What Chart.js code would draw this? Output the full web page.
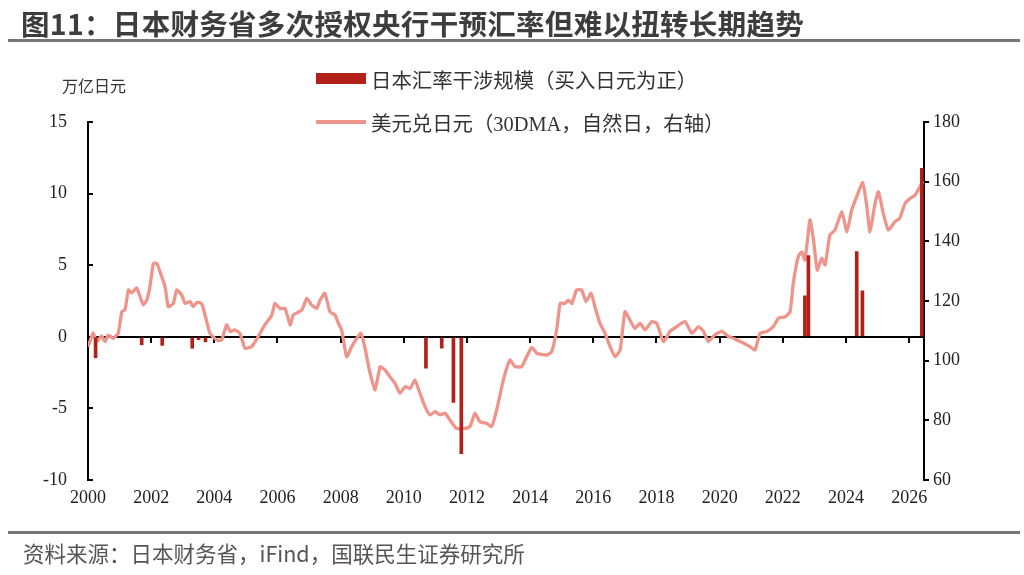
<!DOCTYPE html>
<html>
<head>
<meta charset="utf-8">
<script src="https://cdn.jsdelivr.net/npm/chart.js@4/dist/chart.umd.min.js"></script>
<style>
  html, body { margin: 0; padding: 0; background: #fff; }
  #wrap { position: relative; width: 1024px; height: 575px; overflow: hidden; }
  #chart { position: absolute; left: 0; top: 0; }
  .txt { position: absolute; white-space: nowrap; font-family: "Noto Sans CJK SC", "Noto Sans", sans-serif; }
  #title { left: 21px; top: 2px; font-size: 28.5px; font-weight: bold; color: #3d3d3d; letter-spacing: 0.3px; }
  .rule { position: absolute; left: 8px; width: 1012px; height: 3px; background: #777; }
  #foot { left: 23px; top: 537px; font-size: 21.5px; color: #555; }
  #unit { left: 62px; top: 73px; font-size: 16px; color: #333; }
  .leg { font-size: 20.4px; color: #333; font-family: "Liberation Serif", "Noto Sans CJK SC", serif; }
  .swatch { position: absolute; }
</style>
</head>
<body>
<div id="wrap">
  <canvas id="chart" width="1024" height="575"></canvas>
  <div class="txt" id="title">图11：日本财务省多次授权央行干预汇率但难以扭转长期趋势</div>
  <div class="rule" style="top:39px"></div>
  <div class="txt" id="unit">万亿日元</div>
  <div class="swatch" style="left:316px; top:73px; width:50px; height:11px; background:#b22018"></div>
  <div class="txt leg" style="left:371px; top:64px">日本汇率干涉规模（买入日元为正）</div>
  <div class="swatch" style="left:316px; top:120px; width:50px; height:4px; background:#ef948b"></div>
  <div class="txt leg" style="left:371px; top:107px">美元兑日元（30DMA，自然日，右轴）</div>
  <div class="rule" style="top:531px"></div>
  <div class="txt" id="foot">资料来源：日本财务省，iFind，国联民生证券研究所</div>
</div>
<script>
// 美元兑日元 30DMA（年份小数）
const fxYears = [
  2000.00, 2000.08, 2000.16, 2000.28, 2000.43, 2000.54, 2000.64, 2000.80, 2000.96,
  2001.07, 2001.17, 2001.28, 2001.38, 2001.54, 2001.65, 2001.75, 2001.86, 2001.96,
  2002.07, 2002.18, 2002.28, 2002.44, 2002.54, 2002.70, 2002.81, 2002.97,
  2003.07, 2003.23, 2003.33, 2003.45, 2003.60, 2003.76, 2003.86,
  2004.08, 2004.23, 2004.39, 2004.50, 2004.65, 2004.81, 2004.97,
  2005.18, 2005.39, 2005.60, 2005.82, 2005.92,
  2006.08, 2006.24, 2006.40, 2006.50, 2006.77, 2006.93,
  2007.08, 2007.24, 2007.35, 2007.50, 2007.66, 2007.82, 2007.93,
  2008.03, 2008.19, 2008.35, 2008.51, 2008.64, 2008.77, 2008.93,
  2009.09, 2009.25, 2009.40, 2009.56, 2009.72, 2009.88,
  2010.04, 2010.20, 2010.35, 2010.51, 2010.67, 2010.83, 2010.99,
  2011.15, 2011.31, 2011.46, 2011.67, 2011.94,
  2012.10, 2012.25, 2012.41, 2012.62, 2012.78, 2012.94,
  2013.15, 2013.36, 2013.52, 2013.73, 2013.89,
  2014.05, 2014.21, 2014.52, 2014.68, 2014.84, 2014.95,
  2015.10, 2015.21, 2015.32, 2015.47, 2015.63, 2015.77, 2015.93,
  2016.05, 2016.21, 2016.37, 2016.53, 2016.69, 2016.85,
  2017.00, 2017.16, 2017.32, 2017.48, 2017.64, 2017.85,
  2018.01, 2018.22, 2018.43, 2018.64, 2018.90,
  2019.12, 2019.33, 2019.49, 2019.64, 2019.85,
  2020.07, 2020.28, 2020.43, 2020.65, 2020.96,
  2021.12, 2021.28, 2021.49, 2021.70, 2021.86,
  2022.07, 2022.23, 2022.33, 2022.49, 2022.60, 2022.70, 2022.86, 2022.97,
  2023.09, 2023.23, 2023.34, 2023.49, 2023.65, 2023.87,
  2024.03, 2024.18, 2024.34, 2024.53, 2024.66, 2024.76, 2024.92,
  2025.03, 2025.18, 2025.34, 2025.55, 2025.70, 2025.87,
  2026.03, 2026.19, 2026.34, 2026.45
];
const fxValues = [
  104.7, 107.0, 109.3, 106.4, 108.3, 106.4, 108.6, 107.5, 109.3,
  116.4, 117.0, 123.7, 122.7, 124.4, 121.4, 118.7, 120.3, 124.8,
  132.6, 132.6, 129.8, 124.8, 118.1, 119.2, 123.7, 122.0,
  119.2, 119.8, 118.1, 119.5, 119.2, 113.1, 109.2,
  106.9, 106.9, 112.0, 109.8, 110.3, 109.2, 104.2,
  104.7, 108.1, 112.0, 115.3, 119.2,
  117.5, 117.5, 112.0, 115.3, 117.0, 120.9,
  118.7, 117.5, 120.3, 122.6, 116.4, 115.3, 112.5,
  110.3, 101.3, 104.7, 107.5, 109.2, 104.2, 95.8,
  90.2, 98.0, 96.9, 94.6, 92.4, 89.1,
  91.3, 90.7, 93.5, 89.1, 84.6, 81.8, 82.9,
  81.8, 82.4, 80.1, 77.3, 77.3,
  77.9, 82.4, 79.5, 79.0, 77.9, 83.5,
  93.5, 100.2, 98.0, 98.0, 101.3,
  104.5, 102.5, 101.9, 103.0, 110.3, 119.2,
  119.2, 120.3, 119.2, 123.7, 123.7, 119.8, 122.6,
  118.1, 112.5, 109.2, 104.7, 101.3, 103.6,
  116.4, 113.6, 110.8, 112.5, 110.3, 113.1,
  112.5, 106.4, 109.8, 111.4, 113.1,
  109.2, 111.4, 109.8, 106.4, 108.7,
  109.8, 108.1, 107.5, 106.4, 104.7,
  103.6, 109.2, 109.8, 111.4, 114.2,
  114.7, 116.4, 125.9, 134.9, 136.5, 133.7, 147.2, 140.5,
  130.4, 134.3, 132.1, 142.1, 143.8, 149.9,
  143.2, 150.5, 155.0, 159.7, 151.7, 143.2, 152.7,
  156.6, 149.4, 143.8, 146.6, 147.7, 152.7,
  154.4, 155.5, 158.3, 160.0
];

// 日本汇率干涉规模（万亿日元，买入日元为正）
const interventionYears = [
  2000.24, 2001.70, 2002.35, 2003.30, 2003.50, 2003.72,
  2010.70, 2011.20, 2011.57, 2011.82,
  2022.70, 2022.81, 2024.34, 2024.52, 2026.40
];
const interventionValues = [
  -1.47, -0.56, -0.60, -0.80, -0.20, -0.35,
  -2.19, -0.79, -4.58, -8.16,
  2.86, 5.67, 5.95, 3.21, 11.77
];

const xMin = 2000, xMax = 2026.47;
const tickFont = { family: 'Liberation Serif', size: 18 };

new Chart(document.getElementById('chart').getContext('2d'), {
  data: {
    datasets: [
      {
        type: 'bar',
        label: '日本汇率干涉规模（买入日元为正）',
        data: interventionYears.map((x, i) => ({ x: x, y: interventionValues[i] })),
        xAxisID: 'x',
        yAxisID: 'y',
        backgroundColor: '#b22018',
        barThickness: 3,
        order: 0
      },
      {
        type: 'line',
        label: '美元兑日元（30DMA，自然日，右轴）',
        data: fxYears.map((x, i) => ({ x: x, y: fxValues[i] })),
        xAxisID: 'x',
        yAxisID: 'y1',
        borderColor: '#ef948b',
        borderWidth: 3.3,
        pointRadius: 0,
        tension: 0.15,
        order: 1
      }
    ]
  },
  options: {
    responsive: false,
    animation: false,
    devicePixelRatio: 1,
    layout: { padding: { top: 122, left: 0, right: 0, bottom: 0 } },
    plugins: { legend: { display: false }, tooltip: { enabled: false } },
    scales: {
      x: {
        type: 'linear',
        position: { y: 0 },
        offset: false,
        min: xMin,
        max: xMax,
        ticks: { display: false, stepSize: 2, includeBounds: false },
        grid: { drawOnChartArea: false, drawTicks: true, tickLength: 5, color: '#000', lineWidth: 2, offset: false },
        border: { display: true, color: '#000', width: 2 }
      },
      x2: {
        type: 'linear',
        position: 'bottom',
        offset: false,
        min: xMin,
        max: xMax,
        ticks: {
          stepSize: 2, includeBounds: false, maxRotation: 0, autoSkip: false,
          padding: 7, color: '#222', font: tickFont,
          callback: v => String(v)
        },
        grid: { display: false, drawTicks: false },
        border: { display: false },
        afterFit: s => { s.height = 95; }
      },
      y: {
        position: 'left',
        min: -10,
        max: 15,
        ticks: { stepSize: 5, padding: 26, color: '#222', font: tickFont },
        grid: { drawOnChartArea: false, drawTicks: true, tickLength: -5, color: '#000', lineWidth: 2 },
        border: { display: true, color: '#000', width: 2 },
        afterFit: s => { s.width = 88; }
      },
      y1: {
        position: 'right',
        min: 60,
        max: 180,
        ticks: { stepSize: 20, padding: 4, color: '#222', font: tickFont },
        grid: { drawOnChartArea: false, drawTicks: true, tickLength: 5, color: '#000', lineWidth: 2 },
        border: { display: true, color: '#000', width: 2 },
        afterFit: s => { s.width = 100; }
      }
    }
  }
});
</script>
</body>
</html>
